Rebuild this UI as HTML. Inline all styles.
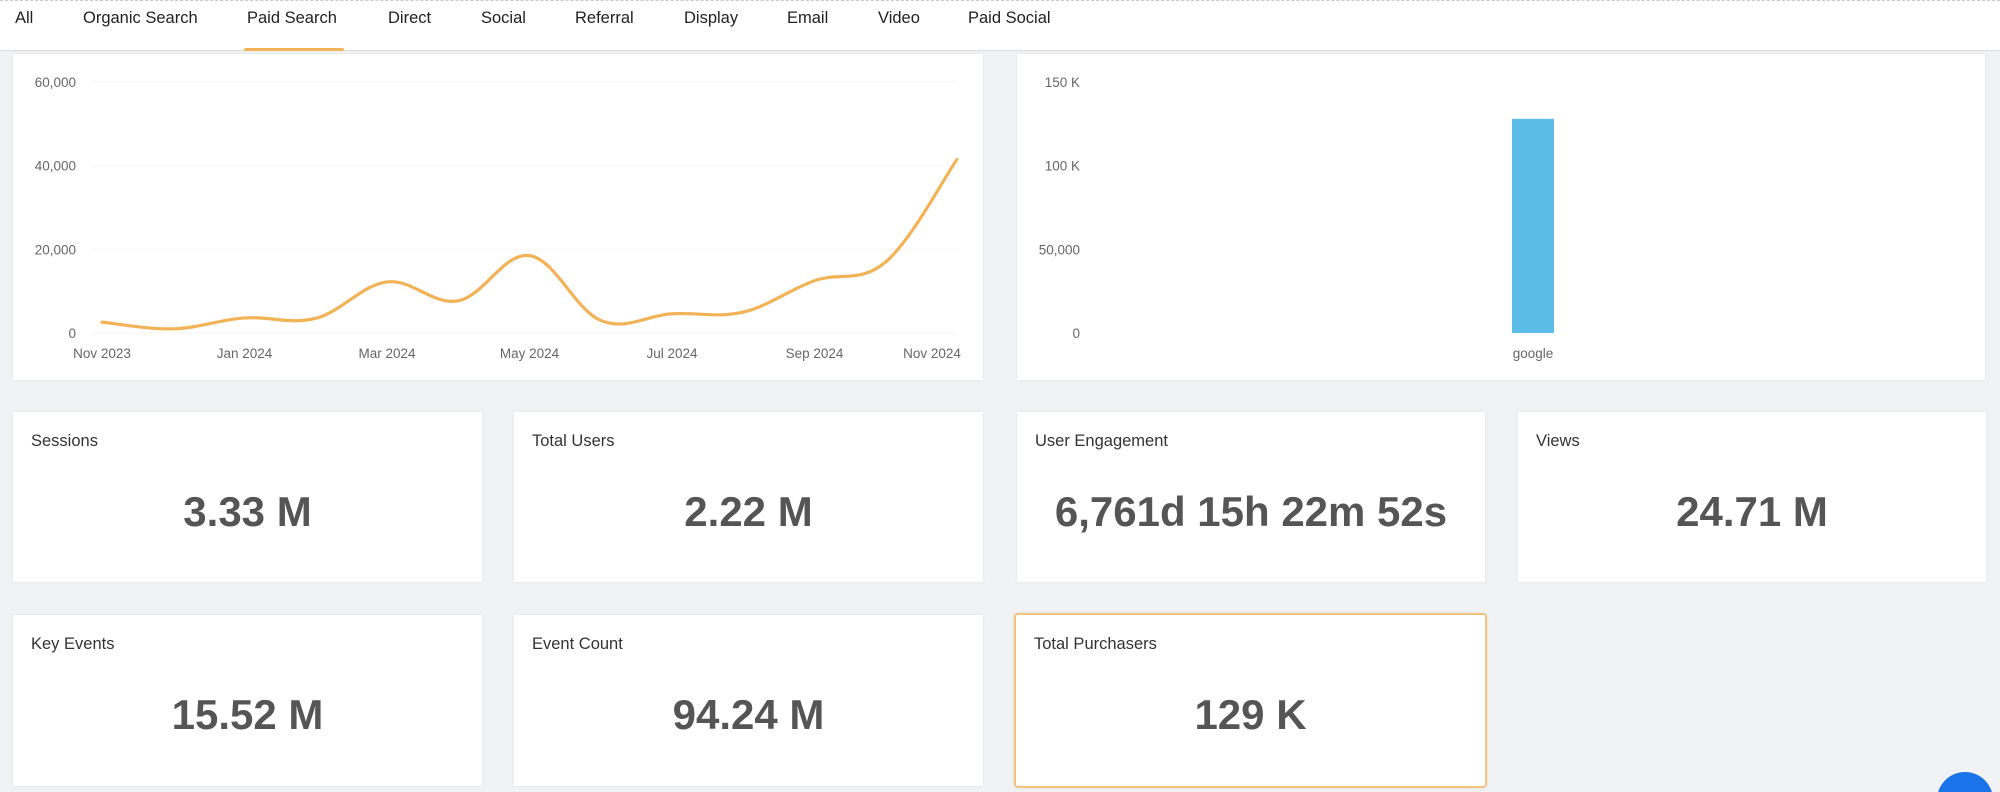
<!DOCTYPE html>
<html style="overflow:hidden;width:2000px;height:792px"><head><meta charset="utf-8">
<style>
*{box-sizing:border-box;margin:0;padding:0}
html,body{overflow:hidden}
body{width:2000px;height:792px;background:#f1f2f4;font-family:"Liberation Sans",Arial,sans-serif;position:relative}
#tabs{position:absolute;left:0;top:0;width:2000px;height:51px;background:#fff;border-top:1px dashed #c8c8c8;border-bottom:1px solid #dcdcdc}
.tab{position:absolute;top:8px;font-size:16.5px;color:#222;cursor:pointer}
#underline{position:absolute;left:244px;top:47px;width:100px;height:3px;background:#f0b45a;border-radius:2px}
.card{position:absolute;background:#fff;box-shadow:0 0 3px rgba(0,0,0,0.08)}
.kpi-title{position:absolute;left:18px;top:20px;font-size:16.5px;color:#333}
.kpi-value{position:absolute;left:0;right:0;top:76px;text-align:center;font-size:42px;font-weight:bold;color:#555}
svg text{font-family:"Liberation Sans",Arial,sans-serif}
#chat-clip{position:absolute;left:1930px;top:760px;width:70px;height:32px;overflow:hidden}
</style></head><body>
<div id="tabs">
<span class="tab" style="left:15px">All</span>
<span class="tab" style="left:83px">Organic Search</span>
<span class="tab" style="left:247px">Paid Search</span>
<span class="tab" style="left:388px">Direct</span>
<span class="tab" style="left:481px">Social</span>
<span class="tab" style="left:575px">Referral</span>
<span class="tab" style="left:684px">Display</span>
<span class="tab" style="left:787px">Email</span>
<span class="tab" style="left:878px">Video</span>
<span class="tab" style="left:968px">Paid Social</span>
<div id="underline"></div>
</div>

<div class="card" style="left:13px;top:54px;width:970px;height:326px"></div>
<div class="card" style="left:1017px;top:54px;width:968px;height:326px"></div>
<svg id="charts" width="2000" height="792" style="position:absolute;left:0;top:0"></svg>

<div class="card" style="left:13px;top:412px;width:469px;height:170px"><div class="kpi-title">Sessions</div><div class="kpi-value">3.33 M</div></div>
<div class="card" style="left:514px;top:412px;width:469px;height:170px"><div class="kpi-title">Total Users</div><div class="kpi-value">2.22 M</div></div>
<div class="card" style="left:1017px;top:412px;width:468px;height:170px"><div class="kpi-title">User Engagement</div><div class="kpi-value">6,761d 15h 22m 52s</div></div>
<div class="card" style="left:1518px;top:412px;width:468px;height:170px"><div class="kpi-title">Views</div><div class="kpi-value">24.71 M</div></div>
<div class="card" style="left:13px;top:615px;width:469px;height:171px"><div class="kpi-title">Key Events</div><div class="kpi-value">15.52 M</div></div>
<div class="card" style="left:514px;top:615px;width:469px;height:171px"><div class="kpi-title">Event Count</div><div class="kpi-value">94.24 M</div></div>
<div class="card" style="left:1014px;top:613px;width:473px;height:175px;border:2px solid #f3c37c;border-radius:4px"><div class="kpi-title" style="left:18px">Total Purchasers</div><div class="kpi-value">129 K</div></div>
<div id="chat-clip"><div style="position:absolute;left:7px;top:12px;width:56px;height:56px;border-radius:50%;background:#1a73e8"></div></div>

<script>
const lineMonths = ["Nov 2023","Dec 2023","Jan 2024","Feb 2024","Mar 2024","Apr 2024","May 2024","Jun 2024","Jul 2024","Aug 2024","Sep 2024","Oct 2024","Nov 2024"];
const lineValues = [2600,1000,3600,3500,12200,7700,18500,3000,4600,5000,12500,17000,41500];
const lineTicks = [0,20000,40000,60000];
const lineTickLabels = ["0","20,000","40,000","60,000"];
const lineXLabelIdx = [0,2,4,6,8,10,12];
const barCats = ["google"];
const barValues = [128000];
const barTicks = [0,50000,100000,150000];
const barTickLabels = ["0","50,000","100 K","150 K"];

const NS="http://www.w3.org/2000/svg";
const svg=document.getElementById('charts');
function mk(tag,attrs,parent){const e=document.createElementNS(NS,tag);for(const k in attrs)e.setAttribute(k,attrs[k]);(parent||svg).appendChild(e);return e;}

const lx0=102,lx1=957,ly0=333,ly1=82;
const lxs=i=>lx0+(lx1-lx0)*i/(lineMonths.length-1);
const lys=v=>ly0-(ly0-ly1)*v/60000;
lineTicks.forEach((t,i)=>{
  const g=mk('line',{x1:lx0-10,x2:lx1,y1:lys(t),y2:lys(t),stroke:'#f6f6f6','stroke-width':1});
  
  
  const tx=mk('text',{x:76,y:lys(t)+5,'text-anchor':'end','font-size':13.5,fill:'#666'});
  tx.textContent=lineTickLabels[i];
  
  
});
lineXLabelIdx.forEach(i=>{
  let x=lxs(i);
  const last=i===lineMonths.length-1;
  const tx=mk('text',{x:last?x-25:x,y:358,'text-anchor':'middle','font-size':13.5,fill:'#666'});
  tx.textContent=lineMonths[i];
  
  
});
const pts=lineValues.map((v,i)=>[lxs(i),lys(v)]);
let d='M'+pts[0][0]+','+pts[0][1];
for(let i=0;i<pts.length-1;i++){
  const p0=pts[Math.max(0,i-1)],p1=pts[i],p2=pts[i+1],p3=pts[Math.min(pts.length-1,i+2)];
  const t=0.18;
  const c1=[p1[0]+(p2[0]-p0[0])*t,p1[1]+(p2[1]-p0[1])*t];
  const c2=[p2[0]-(p3[0]-p1[0])*t,p2[1]-(p3[1]-p1[1])*t];
  d+=' C'+c1[0]+','+c1[1]+' '+c2[0]+','+c2[1]+' '+p2[0]+','+p2[1];
}
const path=mk('path',{d:d,fill:'none',stroke:'#f2b357','stroke-width':3.2,'stroke-linecap':'round'});



const bx0=1085,bx1=1980,by0=333,by1=82;
const bys=v=>by0-(by0-by1)*v/150000;
const bw=(bx1-bx0)/barCats.length;
barTicks.forEach((t,i)=>{
  const tx=mk('text',{x:1080,y:bys(t)+5,'text-anchor':'end','font-size':13.5,fill:'#666'});
  tx.textContent=barTickLabels[i];
  
  
});
barCats.forEach((c,i)=>{
  const cx=bx0+bw*(i+0.5)-(bx0+bx1)/2+1533;
  const r=mk('rect',{x:cx-21,y:bys(barValues[i]),width:42,height:by0-bys(barValues[i]),fill:'#5bbce8'});
  
  
  const tx=mk('text',{x:cx,y:358,'text-anchor':'middle','font-size':13.5,fill:'#666'});
  tx.textContent=c;
  
  
});
</script>
</body></html>
